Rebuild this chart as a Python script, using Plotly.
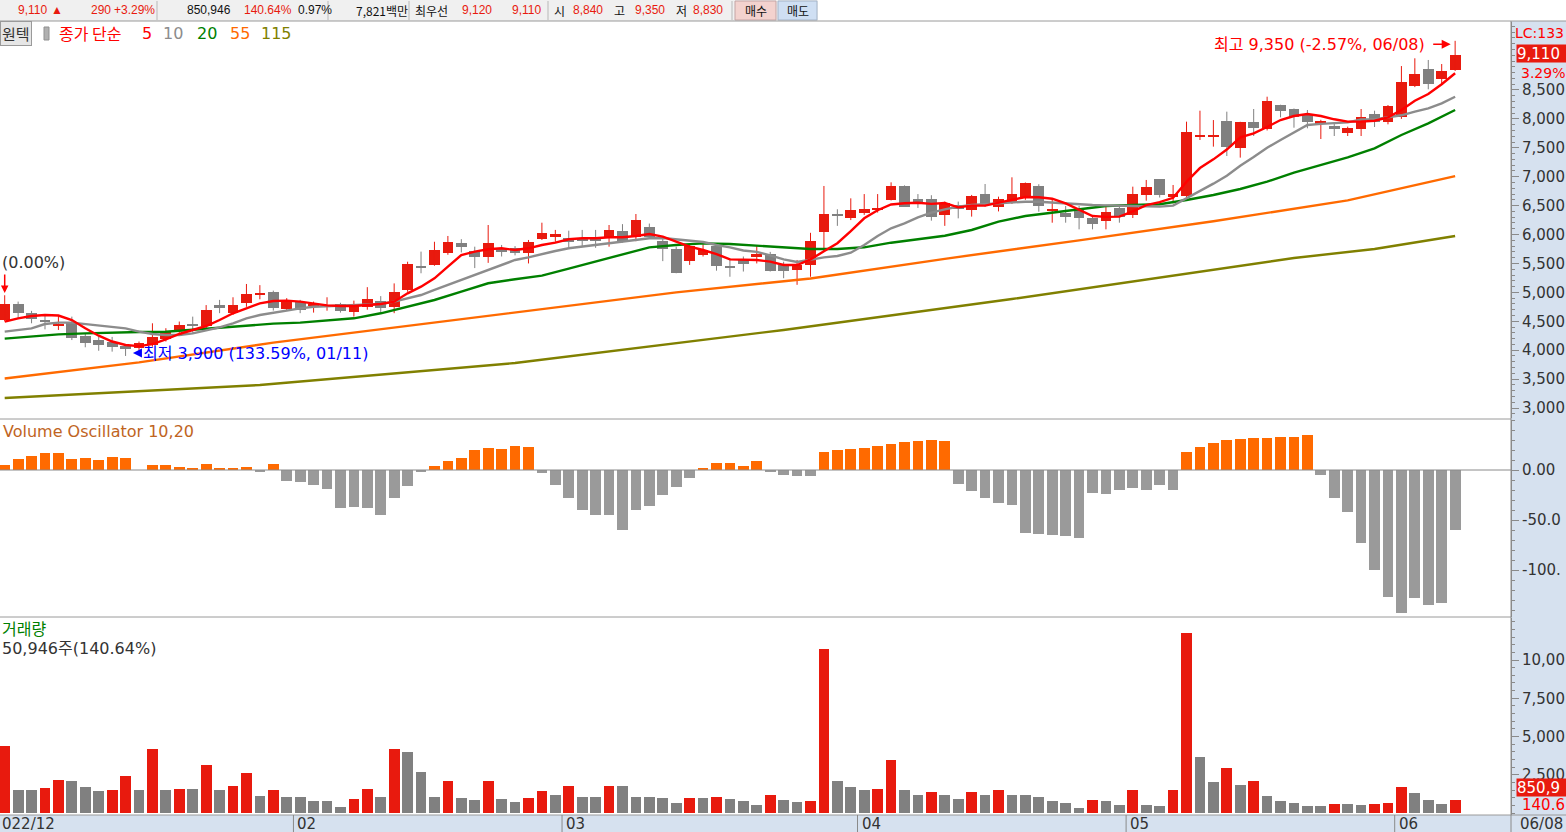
import plotly.graph_objects as go

# ---------------- data ----------------
open_ = [4520, 4800, 4640, 4510, 4430, 4490, 4245, 4175, 4145, 4070,
         4030, 4090, 4190, 4340, 4450, 4410, 4780, 4640, 4810, 4965,
         5010, 4707, 4840, 4775, 4760, 4800, 4666, 4740, 4845, 4750,
         5040, 5440, 5475, 5685, 5860, 5720, 5605, 5760, 5760, 5686,
         5925, 5965, 5935, 5935, 5910, 5935, 6060, 5950, 6125, 5895,
         5750, 5548, 5646, 5800, 5450, 5560, 5606, 5663, 5473, 5387,
         5473, 6050, 6345, 6292, 6367, 6440, 6597, 6840, 6609, 6609,
         6338, 6511, 6424, 6700, 6471, 6540, 6637, 6840, 6415, 6378,
         6424, 6286, 6240, 6453, 6338, 6684, 6955, 6655, 6667, 7700,
         7700, 7969, 7502, 7943, 7820, 8240, 8171, 8067, 7906, 7877,
         7762, 7831, 8084, 7952, 8027, 8569, 8857, 8684, 8840]
high = [4950, 4840, 4680, 4610, 4590, 4580, 4290, 4235, 4230, 4100,
        4150, 4465, 4380, 4495, 4580, 4780, 4870, 4915, 5145, 5125,
        5030, 4900, 4870, 4840, 4915, 4820, 4857, 5090, 4935, 5155,
        5530, 5705, 5875, 5975, 5920, 5790, 6165, 5820, 5800, 5906,
        6205, 6080, 6067, 6080, 6080, 6165, 6180, 6355, 6190, 5950,
        5790, 5830, 5830, 5820, 5590, 5620, 5800, 5700, 5530, 5560,
        6030, 6840, 6437, 6626, 6700, 6700, 6903, 6850, 6700, 6680,
        6570, 6570, 6685, 6874, 6655, 6990, 6900, 6870, 6626, 6494,
        6494, 6330, 6494, 6480, 6828, 6944, 6960, 6857, 7952, 8142,
        7980, 8125, 7950, 8171, 8384, 8245, 8180, 8154, 7985, 7935,
        7866, 8171, 8142, 8240, 8914, 9048, 9019, 8949, 9350]
low = [4500, 4550, 4465, 4360, 4350, 4175, 4050, 3990, 3975, 3900,
       3990, 4060, 4150, 4300, 4300, 4380, 4640, 4610, 4750, 4880,
       4685, 4690, 4640, 4650, 4683, 4650, 4580, 4700, 4650, 4640,
       5010, 5330, 5460, 5650, 5690, 5420, 5510, 5620, 5640, 5500,
       5905, 5875, 5780, 5790, 5770, 5790, 5860, 5885, 5930, 5540,
       5330, 5475, 5620, 5375, 5270, 5360, 5500, 5360, 5245, 5130,
       5270, 5705, 6150, 6250, 6340, 6380, 6590, 6480, 6460, 6240,
       6150, 6280, 6310, 6480, 6400, 6530, 6600, 6395, 6205, 6205,
       6090, 6090, 6090, 6205, 6286, 6586, 6640, 6540, 6650, 7635,
       7520, 7358, 7330, 7704, 7800, 8027, 7848, 7837, 7652, 7704,
       7704, 7704, 7860, 7906, 8000, 8550, 8512, 8600, 8830]
close = [4800, 4640, 4545, 4490, 4440, 4205, 4130, 4090, 4060, 4015,
         4120, 4235, 4320, 4435, 4410, 4695, 4725, 4780, 4970, 4975,
         4725, 4857, 4695, 4785, 4770, 4685, 4781, 4880, 4725, 5000,
         5490, 5430, 5735, 5875, 5790, 5620, 5860, 5690, 5680, 5871,
         6030, 6010, 5877, 5880, 5900, 6080, 5895, 6250, 5952, 5750,
         5340, 5800, 5733, 5456, 5440, 5490, 5663, 5375, 5375, 5473,
         5894, 6355, 6330, 6424, 6437, 6455, 6840, 6482, 6540, 6310,
         6551, 6437, 6667, 6511, 6609, 6700, 6886, 6494, 6430, 6309,
         6286, 6182, 6395, 6309, 6701, 6828, 6684, 6701, 7779, 7710,
         7710, 7520, 7943, 7837, 8310, 8142, 8038, 7952, 7969, 7831,
         7842, 8027, 7943, 8223, 8643, 8777, 8604, 8820, 9110]

# volume in thousands of shares
volume_k = [4380, 1500, 1500, 1630, 2160, 2090, 1700, 1440, 1500, 2420,
            1500, 4180, 1500, 1570, 1570, 3140, 1500, 1770, 2610, 1110,
            1500, 1050, 1050, 780, 780, 390, 920, 1570, 1050, 4180,
            3990, 2680, 1050, 2090, 980, 850, 2090, 920, 720, 980,
            1440, 1180, 1770, 1050, 1050, 1770, 1770, 1050, 1050, 980,
            650, 980, 980, 1050, 920, 780, 520, 1180, 850, 720,
            780, 10720, 2090, 1700, 1500, 1570, 3460, 1500, 1180, 1370,
            1180, 920, 1370, 1180, 1500, 1180, 1180, 1050, 780, 650,
            330, 850, 780, 520, 1500, 520, 460, 1500, 11770, 3660,
            2030, 2940, 1830, 2090, 1110, 780, 650, 460, 460, 590,
            590, 520, 590, 650, 1700, 1307, 850, 588, 850.946]

vol_osc = [5, 11, 14, 17, 17, 11, 12, 10, 13, 12,
           0.5, 5, 5, 3, 2, 6, 2, 2, 3, -2,
           6, -11, -12, -15, -19, -38, -37, -38, -45, -28,
           -16, -2, 4, 9, 12, 20, 22, 21, 24, 23,
           -3, -15, -28, -40, -45, -45, -60, -40, -36, -25,
           -17, -8, 2, 7, 7, 4, 9, -2, -5, -6,
           -6, 18, 20, 21, 22, 24, 26, 28, 29, 30,
           29, -14, -21, -28, -33, -35, -63, -64, -65, -66,
           -68, -23, -24, -20, -18, -20, -15, -20, 18, 23,
           27, 30, 31, 32, 32, 33, 33, 35, -5, -28,
           -42, -73, -100, -127, -143, -128, -135, -133, -60]

ma5 = [4493, 4551, 4591, 4608, 4600, 4522, 4378, 4250, 4150, 4090,
       4070, 4105, 4188, 4280, 4349, 4418, 4522, 4638, 4724, 4811,
       4850, 4857, 4839, 4811, 4775, 4764, 4764, 4781, 4799, 4839,
       4983, 5098, 5243, 5444, 5646, 5704, 5745, 5762, 5733, 5762,
       5819, 5859, 5918, 5935, 5935, 5952, 5952, 5975, 6009, 5963,
       5877, 5790, 5733, 5663, 5571, 5560, 5560, 5531, 5473, 5473,
       5570, 5710, 5850, 6060, 6281, 6420, 6520, 6540, 6550, 6530,
       6545, 6470, 6500, 6500, 6550, 6590, 6650, 6644, 6620, 6540,
       6430, 6320, 6305, 6310, 6400, 6510, 6560, 6635, 6914, 7150,
       7300, 7470, 7680, 7751, 7860, 7981, 8050, 8085, 8050, 7993,
       7952, 7952, 7969, 8027, 8154, 8315, 8431, 8600, 8790]
ma10 = [4320, 4349, 4378, 4453, 4476, 4476, 4453, 4424, 4406, 4378,
        4320, 4280, 4263, 4263, 4291, 4337, 4395, 4465, 4551, 4608,
        4649, 4683, 4724, 4752, 4764, 4764, 4781, 4799, 4799, 4839,
        4897, 4954, 5041, 5127, 5214, 5300, 5387, 5473, 5560, 5606,
        5663, 5715, 5762, 5790, 5819, 5848, 5871, 5894, 5935, 5940,
        5918, 5894, 5871, 5819, 5779, 5725, 5700, 5640, 5570, 5525,
        5565, 5606, 5629, 5686, 5819, 5975, 6108, 6194, 6298, 6378,
        6436, 6482, 6511, 6528, 6540, 6551, 6568, 6568, 6551, 6540,
        6528, 6511, 6505, 6494, 6494, 6488, 6482, 6500, 6626, 6740,
        6880, 7017, 7190, 7340, 7500, 7634, 7770, 7895, 7914, 7926,
        7939, 7990, 7990, 8029, 8062, 8125, 8182, 8269, 8383]
ma20_x = list(range(0, 109, 2))
ma20 = [4199, 4234, 4274, 4291, 4309, 4314, 4320, 4355, 4384, 4430,
        4459, 4476, 4516, 4551, 4638, 4752, 4868, 5012, 5157, 5226,
        5290, 5410, 5531, 5646, 5779, 5819, 5848, 5836, 5807, 5773,
        5750, 5750, 5779, 5859, 5918, 5980, 6079, 6222, 6320, 6378,
        6442, 6494, 6511, 6523, 6597, 6684, 6788, 6914, 7070, 7203,
        7336, 7491, 7722, 7924, 8154]
ma55_x = [0, 10, 20, 30, 40, 50, 60, 70, 80, 90, 100, 108]
ma55 = [3510, 3790, 4130, 4420, 4700, 5000, 5240, 5580, 5900, 6230, 6590, 7010]
ma115_x = [0, 19, 38, 58, 75, 96, 102, 108]
ma115 = [3173, 3398, 3778, 4349, 4885, 5594, 5750, 5975]

month_idx = [0, 22, 42, 64, 84, 104]
month_lbl = ["022/12", "02", "03", "04", "05", "06"]
price_ticks = [3000, 3500, 4000, 4500, 5000, 5500, 6000, 6500, 7000, 7500, 8000, 8500]
price_tick_lbl = ["3,000", "3,500", "4,000", "4,500", "5,000", "5,500", "6,000", "6,500",
                  "7,000", "7,500", "8,000", "8,500"]
vo_ticks = [0, -50, -100]
vo_tick_lbl = ["0.00", "-50.0", "-100."]          # as visible (cut by the window edge)
vol_ticks = [2500, 5000, 7500, 10000]
vol_tick_lbl = ["2,500", "5,000", "7,500", "10,00"]  # as visible (cut by the window edge)

header_text = ["9,110", "▲", "290", "+3.29%", "850,946", "140.64%", "0.97%",
               "7,821백만", "최우선", "9,120", "9,110", "시", "8,840", "고", "9,350",
               "저", "8,830"]
header_red = [1, 1, 1, 1, 0, 1, 0, 0, 0, 1, 1, 0, 1, 0, 1, 0, 1]
legend_text = ["종가 단순", "5", "10", "20", "55", "115"]

# ---------------- layout helpers ----------------
FIG_W, FIG_H = 1566, 832
PLOT_R = 1511


def px(x):
    return x / PLOT_R


def py(y):
    return 1 - y / FIG_H


RED = "#e81a0e"
LINE_RED = "#ff0000"
CGRAY = "#808080"
MAGRAY = "#8c8c8c"
GREEN = "#008000"
ORANGE = "#ff6a00"
OLIVE = "#808000"
VOGRAY = "#9a9a9a"
AXBG = "#d6e1ef"
TXT = "#333333"
NUMFONT = "DejaVu Sans, Noto Sans CJK KR"
KRFONT = "Noto Sans CJK KR, DejaVu Sans"

n = len(close)
idx = list(range(n))
XR = [-0.35, 112.16]

fig = go.Figure()

# ---- candles: wicks ----
for col, cond in ((RED, lambda i: close[i] > open_[i]), (CGRAY, lambda i: close[i] <= open_[i])):
    xs, ys = [], []
    for i in idx:
        if cond(i):
            xs += [i, i, None]
            ys += [low[i], high[i], None]
    fig.add_trace(go.Scatter(x=xs, y=ys, mode="lines", line=dict(color=col, width=1),
                             hoverinfo="skip", showlegend=False, xaxis="x", yaxis="y"))

# ---- candles: bodies ----
MINB = 30
base, hgt, bcol = [], [], []
for o, c in zip(open_, close):
    lo_, hi_ = min(o, c), max(o, c)
    if hi_ - lo_ < MINB:
        mid = (hi_ + lo_) / 2
        lo_, hi_ = mid - MINB / 2, mid + MINB / 2
    base.append(lo_)
    hgt.append(hi_ - lo_)
    bcol.append(RED if c > o else CGRAY)
fig.add_trace(go.Bar(x=idx, y=hgt, base=base, width=0.8, marker=dict(color=bcol, line=dict(width=0)),
                     hoverinfo="skip", showlegend=False, xaxis="x", yaxis="y"))

# ---- moving averages ----
for xs, ys, col in ((ma115_x, ma115, OLIVE), (ma55_x, ma55, ORANGE), (ma20_x, ma20, GREEN),
                    (idx, ma10, MAGRAY), (idx, ma5, LINE_RED)):
    fig.add_trace(go.Scatter(x=xs, y=ys, mode="lines", line=dict(color=col, width=2.4),
                             hoverinfo="skip", showlegend=False, xaxis="x", yaxis="y"))

# ---- volume oscillator ----
fig.add_trace(go.Bar(x=idx, y=vol_osc, width=0.8,
                     marker=dict(color=[ORANGE if v > 0 else VOGRAY for v in vol_osc], line=dict(width=0)),
                     hoverinfo="skip", showlegend=False, xaxis="x2", yaxis="y2"))

# ---- volume ----
vcol = [RED if (i == 0 or volume_k[i] > volume_k[i - 1]) else CGRAY for i in idx]
fig.add_trace(go.Bar(x=idx, y=volume_k, width=0.8, marker=dict(color=vcol, line=dict(width=0)),
                     hoverinfo="skip", showlegend=False, xaxis="x3", yaxis="y3"))

# ---------------- axes ----------------
xcommon = dict(range=XR, visible=False, showgrid=False, zeroline=False, fixedrange=True, automargin=False)
ycommon = dict(side="right", showgrid=False, zeroline=False, showline=True, linecolor="#8a8a8a",
               linewidth=1, ticks="outside", ticklen=7, tickcolor="#8a8a8a", tickwidth=1,
               tickfont=dict(family=NUMFONT, size=15, color=TXT), tickmode="array", fixedrange=True,
               automargin=False)

P_TOP, P_BOT = 22, 418
p_per_px = 17.295
p_hi = 3000 + (408 - P_TOP) * p_per_px
p_lo = 3000 + (408 - P_BOT) * p_per_px

fig.update_layout(
    width=FIG_W, height=FIG_H,
    margin=dict(l=0, r=FIG_W - PLOT_R, t=0, b=0, pad=0, autoexpand=False),
    paper_bgcolor="white", plot_bgcolor="white",
    showlegend=False, barmode="overlay", bargap=0,
    xaxis=dict(domain=[0, 1], anchor="y", **xcommon),
    xaxis2=dict(domain=[0, 1], anchor="y2", **xcommon),
    xaxis3=dict(domain=[0, 1], anchor="y3", **xcommon),
    yaxis=dict(domain=[py(P_BOT), py(P_TOP)], anchor="x", range=[p_lo, p_hi],
               tickvals=price_ticks, ticktext=price_tick_lbl,
               minor=dict(dtick=100, tick0=0, ticks="outside", ticklen=3, tickcolor="#8a8a8a"),
               **ycommon),
    yaxis2=dict(domain=[py(617), py(419.5)], anchor="x2", range=[-147, 50.5],
                tickvals=vo_ticks, ticktext=vo_tick_lbl,
                minor=dict(dtick=10, tick0=0, ticks="outside", ticklen=3, tickcolor="#8a8a8a"),
                **ycommon),
    yaxis3=dict(domain=[py(815), py(618)], anchor="x3", range=[-131, 12745],
                tickvals=vol_ticks, ticktext=vol_tick_lbl,
                minor=dict(dtick=500, tick0=0, ticks="outside", ticklen=3, tickcolor="#8a8a8a"),
                **ycommon),
)

shapes = []
# right axis panel and bottom date strip backgrounds
shapes.append(dict(type="rect", xref="paper", yref="paper", x0=1, x1=px(FIG_W), y0=py(832), y1=py(21),
                   fillcolor=AXBG, line=dict(width=0), layer="below"))
shapes.append(dict(type="rect", xref="paper", yref="paper", x0=0, x1=px(FIG_W), y0=py(832), y1=py(815),
                   fillcolor=AXBG, line=dict(width=0), layer="below"))
# header bar
shapes.append(dict(type="rect", xref="paper", yref="paper", x0=0, x1=px(818), y0=py(21), y1=py(0),
                   fillcolor="#f0f0f0", line=dict(width=0), layer="below"))
for sx in (157, 328, 409, 548, 732):
    shapes.append(dict(type="line", xref="paper", yref="paper", x0=px(sx), x1=px(sx), y0=py(20), y1=py(1),
                       line=dict(color="#b8b8b8", width=1)))
shapes.append(dict(type="rect", xref="paper", yref="paper", x0=px(735), x1=px(776), y0=py(20), y1=py(1),
                   fillcolor="#f3d2ce", line=dict(color="#c4a4a4", width=1)))
shapes.append(dict(type="rect", xref="paper", yref="paper", x0=px(778), x1=px(817), y0=py(20), y1=py(1),
                   fillcolor="#cfdff3", line=dict(color="#a4b4c8", width=1)))
# panel borders
for yy, x1 in ((21, FIG_W), (419, PLOT_R), (617, PLOT_R), (815, FIG_W)):
    shapes.append(dict(type="line", xref="paper", yref="paper", x0=0, x1=px(x1), y0=py(yy), y1=py(yy),
                       line=dict(color="#9a9a9a", width=1)))
shapes.append(dict(type="line", xref="paper", yref="paper", x0=1, x1=1, y0=py(832), y1=py(21),
                   line=dict(color="#8a8a8a", width=1)))
# VO zero line
shapes.append(dict(type="line", xref="paper", yref="y2", x0=0, x1=1, y0=0, y1=0,
                   line=dict(color="#8a8a8a", width=1)))
# month tick lines in date strip
for mi in month_idx:
    shapes.append(dict(type="line", xref="x3", yref="paper", x0=mi - 0.5, x1=mi - 0.5, y0=py(832), y1=py(815),
                       line=dict(color="#8a8a8a", width=1)))
# legend small icon box
shapes.append(dict(type="rect", xref="paper", yref="paper", x0=px(44), x1=px(49), y0=py(40), y1=py(27),
                   fillcolor="#b0b0b0", line=dict(color="#909090", width=1)))

fig.update_layout(shapes=shapes)

ann = []


def text(x, y, s, color=TXT, size=16, family=NUMFONT, xanchor="left", xref="paper", yref="paper", **kw):
    ann.append(dict(x=x, y=y, xref=xref, yref=yref, text=s, showarrow=False, xanchor=xanchor,
                    yanchor="middle", font=dict(family=family, size=size, color=color), **kw))


# header texts
hx = [16, 49, 89, 112, 185, 242, 296, 354, 413, 460, 510, 552, 571, 612, 633, 674, 691]
for s, r, x in zip(header_text, header_red, hx):
    fam = KRFONT if any(ord(ch) > 0x3000 for ch in s) else "Liberation Sans, Noto Sans CJK KR"
    text(px(x), py(10.5), s, color=RED if r else "#111111", size=12, family=fam)
text(px(755.5), py(10.5), "매수", color="#111111", size=12, family=KRFONT, xanchor="center")
text(px(797.5), py(10.5), "매도", color="#111111", size=12, family=KRFONT, xanchor="center")

# legend line
ann.append(dict(x=0, y=py(33), xref="paper", yref="paper", text="원텍", showarrow=False, xanchor="left",
                yanchor="middle", font=dict(family=KRFONT, size=15, color=TXT), bgcolor="#e6e6e6",
                bordercolor="#9a9a9a", borderwidth=1, borderpad=1))
for s, col, x in zip(legend_text, [LINE_RED, LINE_RED, MAGRAY, GREEN, ORANGE, OLIVE],
                     [57, 140, 161, 195, 228, 259]):
    text(px(x), py(33), s, color=col, size=16, family=KRFONT if "종" in s else NUMFONT)

# price markers
text(0, high[0] + 575, "(0.00%)", color=TXT, size=16, yref="y")
ann.append(dict(x=0, y=high[0] + 40, xref="x", yref="y", ax=0, ay=-20, text="", showarrow=True,
                arrowhead=2, arrowsize=1, arrowwidth=1.5, arrowcolor=LINE_RED))
lo_i = low.index(min(low))
ann.append(dict(x=lo_i + 0.55, y=min(low) + 50, xref="x", yref="y", ax=9, ay=0, text="", showarrow=True,
                arrowhead=2, arrowsize=1.2, arrowwidth=1.5, arrowcolor="#0000ff"))
text(lo_i + 0.55 + 8.5 / 13.43, min(low) + 50,
     f"최저 {min(low):,} ({(close[-1] / min(low) - 1) * 100:.2f}%, 01/11)",
     color="#0000ff", size=16, xref="x", yref="y")
hi_i = high.index(max(high))
ann.append(dict(x=hi_i - 0.33, y=max(high) - 60, xref="x", yref="y", ax=-19, ay=0, text="", showarrow=True,
                arrowhead=2, arrowsize=1.2, arrowwidth=1.5, arrowcolor=LINE_RED))
text(hi_i - 0.33 - 24 / 13.43, max(high) - 60,
     f"최고 {max(high):,} ({(close[-1] / max(high) - 1) * 100:.2f}%, 06/08)",
     color=LINE_RED, size=16, xref="x", yref="y", xanchor="right")

# right side labels
text(px(1513), py(33), "LC:133", color=LINE_RED, size=14)
ann.append(dict(x=px(1516), y=py(53.5), xref="paper", yref="paper", text=f"{close[-1]:,}", showarrow=False,
                xanchor="left", yanchor="middle", width=50, height=17, align="left", bgcolor=RED,
                font=dict(family=NUMFONT, size=15, color="white"), borderpad=0))
text(px(1519), py(73), "3.29%", color=LINE_RED, size=14)
ann.append(dict(x=px(1516), y=py(787), xref="paper", yref="paper", text="850,9", showarrow=False,
                xanchor="left", yanchor="middle", width=50, height=17, align="left", bgcolor=RED,
                font=dict(family=NUMFONT, size=15, color="white"), borderpad=0))
text(px(1520), py(805), "140.6", color=LINE_RED, size=15)

# panel titles
text(px(1), py(431), "Volume Oscillator 10,20", color="#c0641e", size=16)
text(px(0), py(628), "거래량", color=GREEN, size=16, family=KRFONT)
text(px(0), py(648), "50,946주(140.64%)", color=TXT, size=16)

# date strip labels
for mi, lb in zip(month_idx, month_lbl):
    xx = max(mi - 0.5, XR[0])
    ann.append(dict(x=xx, y=py(823.5), xref="x3", yref="paper", text=lb, showarrow=False,
                    xanchor="left", yanchor="middle", xshift=2 if mi - 0.5 >= XR[0] else 0,
                    font=dict(family=NUMFONT, size=15, color=TXT)))
text(px(1518), py(823.5), "06/08", color=TXT, size=15)

fig.update_layout(annotations=ann)

fig.write_html("out.html", config={"displayModeBar": False, "staticPlot": True})
